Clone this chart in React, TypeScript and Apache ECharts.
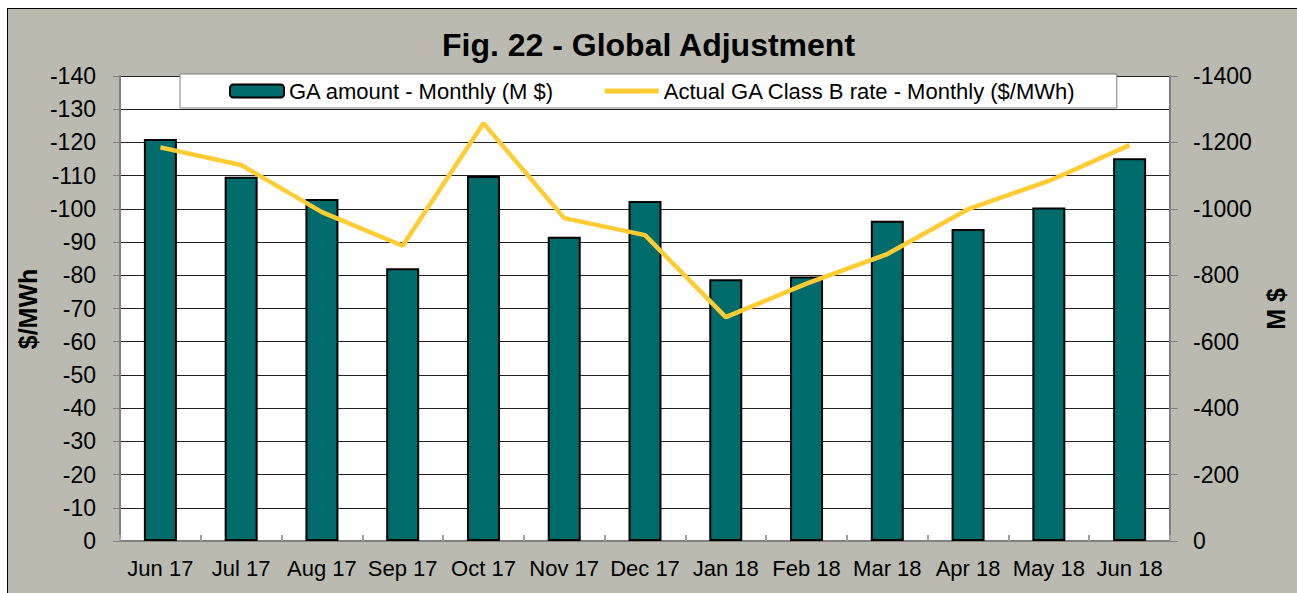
import React, { useEffect, useRef } from "react";
import * as echarts from "echarts";

const months = ["Jun 17", "Jul 17", "Aug 17", "Sep 17", "Oct 17", "Nov 17", "Dec 17", "Jan 18", "Feb 18", "Mar 18", "Apr 18", "May 18", "Jun 18"];
const gaAmount = [-1210, -1097, -1030, -821, -1099, -916, -1024, -788, -796, -964, -939, -1004, -1152];
const gaRate = [-118.5, -113.2, -99.0, -88.9, -125.8, -97.2, -92.1, -67.4, -77.5, -86.4, -99.9, -108.4, -119.2];
const barName = "GA amount - Monthly (M $)";
const lineName = "Actual GA Class B rate - Monthly ($/MWh)";

const FONT = "'Liberation Sans', Arial, sans-serif";

export default function App() {
  const ref = useRef<HTMLDivElement>(null);
  useEffect(() => {
    if (!ref.current) return;
    const chart = echarts.init(ref.current, null, { renderer: "svg" });
    chart.setOption({
      animation: false,
      backgroundColor: "transparent",
      textStyle: { fontFamily: FONT },
      title: {
        text: "Fig. 22 - Global Adjustment",
        left: "center",
        top: 24,
        textStyle: { fontSize: 32, fontWeight: "bold", color: "#000", fontFamily: FONT },
      },
      legend: {
        left: 180,
        top: 74,
        padding: [6, 41, 6, 49],
        itemGap: 48,
        itemWidth: 54,
        itemHeight: 13,
        backgroundColor: "#fff",
        borderColor: "#808080",
        borderWidth: 1,
        borderRadius: 0,
        textStyle: { fontSize: 22, color: "#000", fontFamily: FONT },
        data: [
          { name: barName },
          { name: lineName, itemStyle: { opacity: 0 }, lineStyle: { width: 5 } },
        ],
      },
      grid: {
        left: 120,
        right: 127,
        top: 76,
        bottom: 52,
        show: true,
        backgroundColor: "#fff",
        borderWidth: 0,
      },
      xAxis: {
        type: "category",
        data: months,
        boundaryGap: true,
        axisLine: { lineStyle: { color: "#808080", width: 2 } },
        axisTick: { show: true, inside: true, length: 6, lineStyle: { color: "#a0a0a0", width: 2 } },
        axisLabel: { fontSize: 22, color: "#000", margin: 16, interval: 0, fontFamily: FONT },
      },
      yAxis: [
        {
          type: "value",
          position: "left",
          min: -140,
          max: 0,
          interval: 10,
          inverse: true,
          axisLine: { show: true, lineStyle: { color: "#808080", width: 2 } },
          axisTick: { show: true, length: 7, lineStyle: { color: "#808080" } },
          axisLabel: { fontSize: 23, color: "#000", margin: 24, fontFamily: FONT },
          splitLine: { show: true, lineStyle: { color: "#222", width: 1 } },
        },
        {
          type: "value",
          position: "right",
          min: -1400,
          max: 0,
          interval: 200,
          inverse: true,
          axisLine: { show: true, lineStyle: { color: "#808080", width: 2 } },
          axisTick: { show: true, length: 8, lineStyle: { color: "#808080" } },
          axisLabel: { fontSize: 23, color: "#000", margin: 23, fontFamily: FONT, formatter: (v: number) => String(v) },
          splitLine: { show: false },
        },
      ],
      series: [
        {
          name: barName,
          type: "bar",
          yAxisIndex: 1,
          data: gaAmount,
          barWidth: 33,
          itemStyle: { color: "#006B6B", borderColor: "#000", borderWidth: 2 },
        },
        {
          name: lineName,
          type: "line",
          yAxisIndex: 0,
          data: gaRate,
          symbol: "none",
          showSymbol: false,
          lineStyle: { color: "#FFCC33", width: 4.5 },
          itemStyle: { color: "#FFCC33", opacity: 0 },
        },
      ],
      graphic: [
        {
          type: "text",
          x: 28,
          y: 309,
          rotation: Math.PI / 2,
          style: {
            text: "$/MWh",
            font: `bold 25px ${FONT}`,
            fill: "#000",
            textAlign: "center",
            textVerticalAlign: "middle",
          },
        },
        {
          type: "text",
          x: 1276,
          y: 309,
          rotation: Math.PI / 2,
          style: {
            text: "M $",
            font: `bold 25px ${FONT}`,
            fill: "#000",
            textAlign: "center",
            textVerticalAlign: "middle",
          },
        },
      ],
    });
    return () => chart.dispose();
  }, []);

  return (
    <div style={{ position: "fixed", left: 0, top: 0, width: 1297, height: 593, background: "#fff", overflow: "hidden" }}>
      <div
        style={{
          position: "absolute",
          left: 7,
          top: 8,
          width: 1300,
          height: 600,
          background: "#BBBAB1",
          border: "1px solid #000",
          boxSizing: "border-box",
        }}
      />
      <div ref={ref} style={{ position: "absolute", left: 0, top: 0, width: 1297, height: 593 }} />
    </div>
  );
}
